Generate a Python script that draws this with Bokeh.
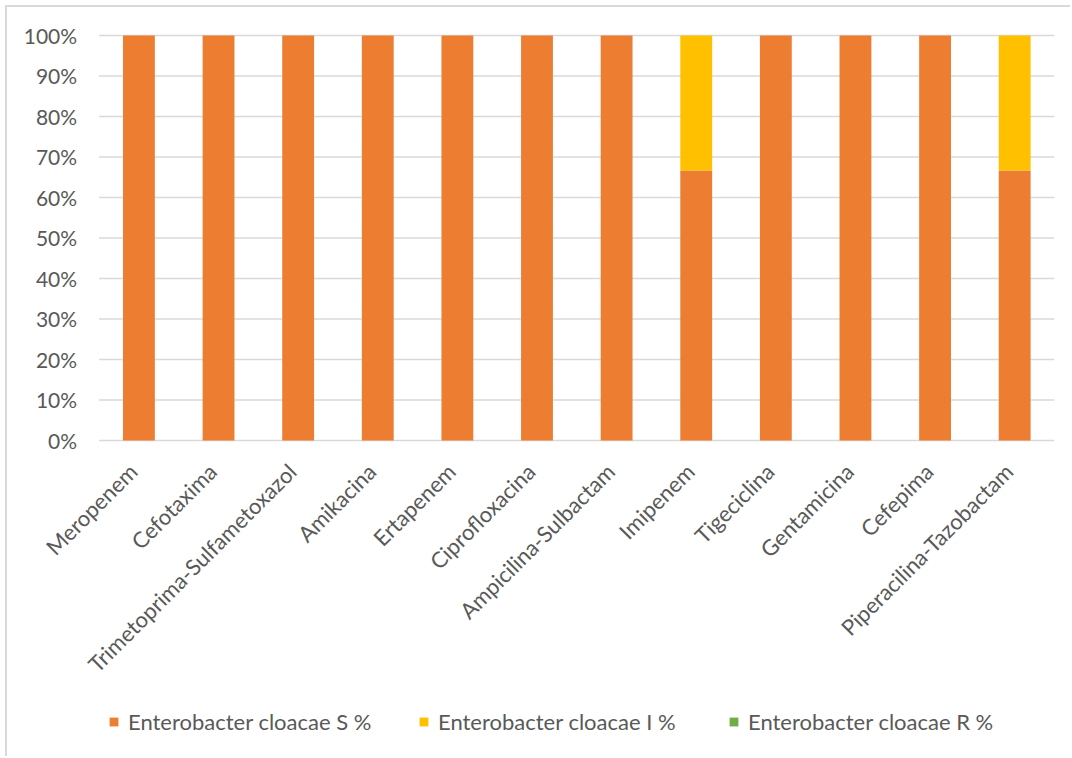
from bokeh.plotting import figure
from bokeh.models import (FactorRange, Range1d, NumeralTickFormatter, Legend, LegendItem,
                          ColumnDataSource, FixedTicker)
from bokeh.core.properties import value
from bokeh.embed import file_html
from bokeh.resources import INLINE
import math

categories = ["Meropenem", "Cefotaxima", "Trimetoprima-Sulfametoxazol", "Amikacina", "Ertapenem",
              "Ciprofloxacina", "Ampicilina-Sulbactam", "Imipenem", "Tigeciclina", "Gentamicina",
              "Cefepima", "Piperacilina-Tazobactam"]
s_pct = [1, 1, 1, 1, 1, 1, 1, 0.6667, 1, 1, 1, 0.6667]
i_pct = [0, 0, 0, 0, 0, 0, 0, 0.3333, 0, 0, 0, 0.3333]
r_pct = [0] * 12
series = ["Enterobacter cloacae S %", "Enterobacter cloacae I %", "Enterobacter cloacae R %"]
colors = ["#ED7D31", "#FFC000", "#70AD47"]
y_ticks = [0, 0.1, 0.2, 0.3, 0.4, 0.5, 0.6, 0.7, 0.8, 0.9, 1.0]

FONT = "Lato"
TXT = "#595959"
GRID = "#d9d9d9"

src = ColumnDataSource(dict(cat=categories, s=s_pct, i=i_pct, r=r_pct))

# one blank factor on the left leaves room (inside the frame) for the y labels and the
# start of the first rotated category label; the frame also runs above 100% and down
# under 0% so no label or legend entry is clipped
pad = [" "]
p = figure(width=1065, height=751, x_range=FactorRange(*(pad + categories)),
           y_range=Range1d(-0.7852, 1.0691), output_backend="svg", toolbar_location=None,
           min_border_left=12, min_border_right=18, min_border_top=0, min_border_bottom=0)
p.styles = {"margin-left": "5px", "margin-top": "5px",
            "border-left": "2px solid #d9d9d9", "border-top": "2px solid #d9d9d9"}
p.outline_line_color = None
p.grid.visible = False
p.xaxis.visible = False

# horizontal gridlines spanning only the category area
grid_src = ColumnDataSource(dict(
    x0=[(categories[0], -0.5)] * len(y_ticks),
    x1=[(categories[-1], 0.5)] * len(y_ticks),
    y=y_ticks))
p.segment(x0="x0", y0="y", x1="x1", y1="y", source=grid_src, line_color=GRID, line_width=1.5)

renderers = p.vbar_stack(["s", "i", "r"], x="cat", width=0.4, fill_color=colors,
                         line_color=None, source=src)

ax = p.yaxis[0]
ax.fixed_location = float(len(pad))
ax.ticker = FixedTicker(ticks=y_ticks)
ax.formatter = NumeralTickFormatter(format="0%")
ax.axis_line_color = None
ax.major_tick_line_color = None
ax.minor_tick_line_color = None
ax.major_tick_out = 0
ax.major_tick_in = 0
ax.major_label_text_font = FONT
ax.major_label_text_color = TXT
ax.major_label_text_font_size = "21px"
ax.major_label_standoff = 22

# category labels, rotated 45 degrees and ending under each bar
p.text(x=categories, y=0, text=categories, angle=math.pi / 4, text_align="right",
       text_baseline="middle", x_offset=-6, y_offset=27, text_font=value(FONT),
       text_font_size="22px", text_color=TXT)

legend = Legend(items=[LegendItem(label=n, renderers=[r]) for n, r in zip(series, renderers)],
                location=(89, 23), orientation="horizontal", padding=0, margin=0, spacing=0,
                border_line_color=None, background_fill_alpha=0, glyph_width=11, glyph_height=11,
                label_standoff=9, label_width=290, label_text_font=FONT,
                label_text_font_size="22px", label_text_color=TXT, label_height=20)
p.add_layout(legend, "center")

open("out.html", "w").write(file_html(p, INLINE))
